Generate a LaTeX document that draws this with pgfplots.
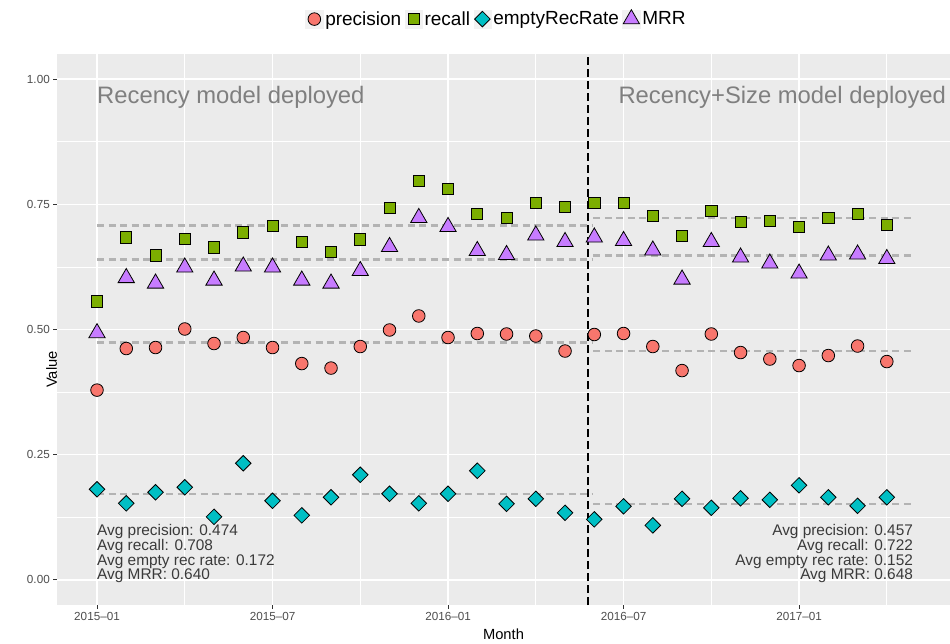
\documentclass[border=0pt]{standalone}
\usepackage{fontspec}
\setmainfont{Liberation Sans}
\usepackage{pgfplots}
\usepackage{pgfplotstable}
\pgfplotsset{compat=1.18}

\definecolor{panelbg}{HTML}{EBEBEB}
\definecolor{precC}{HTML}{F8766D}
\definecolor{recC}{HTML}{7CAE00}
\definecolor{emptyC}{HTML}{00BFC4}
\definecolor{mrrC}{HTML}{C77CFF}
\definecolor{avgC}{HTML}{B3B3B3}
\definecolor{deployC}{HTML}{7F7F7F}
\definecolor{annotC}{HTML}{3A3A3A}
\definecolor{tickC}{HTML}{4D4D4D}
\definecolor{keyC}{HTML}{F2F2F2}

% month index: 0 = 2015-01
\pgfplotstableread{
m  prec   rec    empty  mrr
0  0.379  0.556  0.181  0.493
1  0.462  0.684  0.153  0.603
2  0.464  0.648  0.175  0.592
3  0.501  0.681  0.185  0.624
4  0.472  0.664  0.126  0.598
5  0.484  0.694  0.233  0.626
6  0.464  0.707  0.158  0.624
7  0.432  0.675  0.129  0.598
8  0.423  0.655  0.165  0.592
9  0.466  0.680  0.210  0.617
10 0.499  0.743  0.172  0.665
11 0.527  0.796  0.153  0.723
12 0.484  0.780  0.172  0.705
13 0.492  0.731  0.218  0.657
14 0.491  0.722  0.152  0.649
15 0.487  0.752  0.162  0.688
16 0.457  0.745  0.134  0.675
17 0.490  0.753  0.121  0.684
18 0.492  0.753  0.147  0.677
19 0.466  0.727  0.109  0.658
20 0.418  0.687  0.162  0.600
21 0.491  0.737  0.144  0.675
22 0.454  0.715  0.163  0.644
23 0.441  0.717  0.160  0.632
24 0.428  0.705  0.189  0.612
25 0.448  0.722  0.165  0.648
26 0.467  0.731  0.148  0.650
27 0.436  0.709  0.165  0.641
}\datatable

\pgfplotsset{
  ggmark/.style={only marks,
    legend image code/.code={
      \fill[keyC] (-8.7pt,-9pt) rectangle (8.7pt,9pt);
      \draw[##1] plot coordinates {(0pt,0pt)};
    }},
  avgline/.style={avgC, line width=2.4pt, dash pattern=on 7pt off 4.5pt, forget plot},
}

\begin{document}
\begin{tikzpicture}
\path[use as bounding box] (-57pt,-38pt) rectangle (893pt,605pt);
\begin{axis}[
  at={(0pt,0pt)}, anchor=south west,
  scale only axis, width=893pt, height=551pt,
  xmin=-1.368, xmax=29.16, ymin=-0.05, ymax=1.05,
  axis background/.style={fill=panelbg},
  axis line style={draw=none},
  xtick={0,6,12,18,24},
  xticklabels={2015--01,2015--07,2016--01,2016--07,2017--01},
  ytick={0,0.25,0.5,0.75,1},
  yticklabels={0.00,0.25,0.50,0.75,1.00},
  minor xtick={3,9,15,21,27},
  minor ytick={0.125,0.375,0.625,0.875},
  grid=both,
  major grid style={white, line width=1.5pt},
  minor grid style={white, line width=0.75pt},
  tick align=outside, tick pos=left,
  major tick length=3.7pt, minor tick length=0pt,
  major tick style={draw=black!80, line width=1pt},
  minor tick style={draw=none},
  ticklabel style={font=\fontsize{11.7}{14}\selectfont, text=tickC},
  xlabel={Month}, ylabel={Value},
  x label style={at={(axis description cs:0.5,0)}, anchor=base, yshift=-34.5pt,
    font=\fontsize{14.7}{17}\selectfont},
  y label style={at={(axis description cs:0,0.5)}, rotate=0, anchor=base, xshift=-40pt,
    font=\fontsize{14.7}{17}\selectfont},
  legend columns=4,
  legend style={at={(axis description cs:0.4916,1.0635)}, anchor=center,
    draw=none, fill=none, font=\fontsize{19}{22}\selectfont,
    nodes={inner sep=1pt},
    /tikz/every odd column/.style={column sep=1pt},
    /tikz/every even column/.style={column sep=2.5pt}},
]
\addplot[ggmark, mark=*, mark size=6.3pt,
  mark options={draw=black, fill=precC, line width=0.8pt}]
  table[x=m, y=prec] {\datatable};
\addlegendentry{precision}
\addplot[ggmark, mark=square*, mark size=5.6pt,
  mark options={draw=black, fill=recC, line width=0.8pt}]
  table[x=m, y=rec] {\datatable};
\addlegendentry{recall}
\addplot[ggmark, mark=square*, mark size=5.5pt,
  mark options={draw=black, fill=emptyC, line width=0.8pt, rotate=45}]
  table[x=m, y=empty] {\datatable};
\addlegendentry{emptyRecRate}
\addplot[ggmark, mark=triangle*, mark size=9.4pt,
  mark options={draw=black, fill=mrrC, line width=0.8pt}]
  table[x=m, y=mrr] {\datatable};
\addlegendentry{MRR}

% period averages
\addplot[avgline] coordinates {(0,0.474) (16.97,0.474)};
\addplot[avgline] coordinates {(0,0.708) (16.97,0.708)};
\addplot[avgline] coordinates {(0,0.172) (16.97,0.172)};
\addplot[avgline] coordinates {(0,0.640) (16.97,0.640)};
\addplot[avgline] coordinates {(16.97,0.457) (27.9,0.457)};
\addplot[avgline] coordinates {(16.97,0.722) (27.9,0.722)};
\addplot[avgline] coordinates {(16.97,0.152) (27.9,0.152)};
\addplot[avgline] coordinates {(16.97,0.648) (27.9,0.648)};

% deployment date
\addplot[black, line width=1.5pt, dash pattern=on 8pt off 4pt, forget plot]
  coordinates {(16.78,-0.05) (16.78,1.05)};

\node[anchor=base west, inner sep=0pt, text=deployC, font=\fontsize{23.8}{28}\selectfont]
  at (axis cs:0,0.9515) {Recency model deployed};
\node[anchor=base east, inner sep=0pt, text=deployC, font=\fontsize{23.8}{28}\selectfont]
  at (axis cs:29.03,0.9515) {Recency+Size model deployed};

\begin{scope}[every node/.style={inner sep=0pt, text=annotC, font=\fontsize{15.4}{17}\selectfont}]
\node[anchor=base west] at (axis cs:0,0.088) {Avg precision: 0.474};
\node[anchor=base west] at (axis cs:0,0.0587) {Avg recall: 0.708};
\node[anchor=base west] at (axis cs:0,0.0293) {Avg empty rec rate: 0.172};
\node[anchor=base west] at (axis cs:0,0) {Avg MRR: 0.640};
\node[anchor=base east] at (axis cs:27.9,0.088) {Avg precision: 0.457};
\node[anchor=base east] at (axis cs:27.9,0.0587) {Avg recall: 0.722};
\node[anchor=base east] at (axis cs:27.9,0.0293) {Avg empty rec rate: 0.152};
\node[anchor=base east] at (axis cs:27.9,0) {Avg MRR: 0.648};
\end{scope}
\end{axis}
\end{tikzpicture}
\end{document}
